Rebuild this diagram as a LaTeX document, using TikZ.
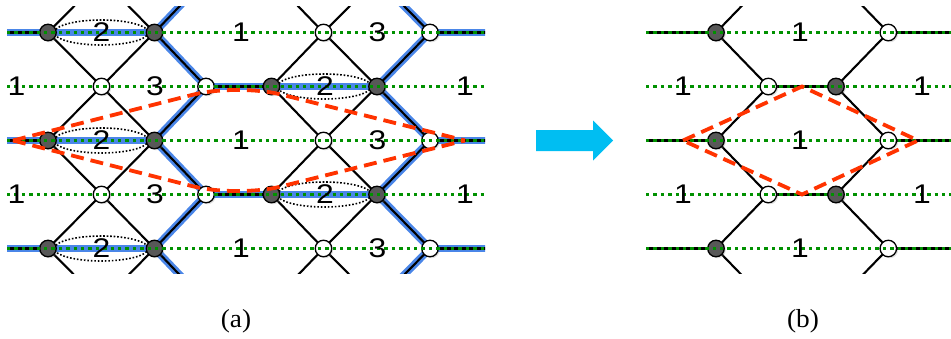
\documentclass[tikz,border=0pt]{standalone}
\usepackage{fontspec}
\setmainfont{Liberation Serif}
\newfontfamily\digitfont[FakeStretch=1.18]{Liberation Sans}
\newfontfamily\captionfont[FakeStretch=1.05]{Liberation Serif}
\usetikzlibrary{shadows}
\definecolor{hlblue}{RGB}{74,134,232}
\definecolor{dotgreen}{RGB}{0,145,0}
\definecolor{cutred}{RGB}{255,51,0}
\definecolor{arrowcyan}{RGB}{0,190,242}
\definecolor{darknode}{RGB}{88,88,88}
\pgfdeclarelayer{bg}
\pgfdeclarelayer{fg}
\pgfsetlayers{bg,main,fg}
\begin{document}
\begin{tikzpicture}[x=1pt,y=-1pt,
  bond/.style={line width=2.1pt, black},
  hl/.style={line width=7.5pt, hlblue},
  gridline/.style={line width=3.4pt, dotgreen, dash pattern=on 3.4pt off 4pt},
  pairloop/.style={black, line width=1.6pt, dash pattern=on 1.6pt off 1.9pt},
  basenode/.style={circle, draw, line width=1.3pt, minimum size=16.5pt, inner sep=0pt,
    drop shadow={shadow xshift=1.5pt, shadow yshift=-1.5pt, opacity=0.25}},
  dnode/.style={basenode, fill=darknode},
  wnode/.style={basenode, fill=white},
  lbl/.style={font=\digitfont\fontsize{27}{27}\selectfont, inner sep=0pt},
  captext/.style={font=\captionfont\fontsize{26}{26}\selectfont, inner sep=0pt},
  cut/.style={cutred, line width=3.8pt, dash pattern=on 13pt off 7pt},
]
\useasboundingbox (0,0) rectangle (951,338);

% ---------------- panel (a): lattice points ----------------
\foreach \k in {1,3,5} {
  \node[dnode] (A1k\k) at (48,{-21.5+54*\k}) {};
  \node[dnode] (A3k\k) at (154.5,{-21.5+54*\k}) {};
  \node[wnode] (A6k\k) at (323.5,{-21.5+54*\k}) {};
  \node[wnode] (A8k\k) at (430,{-21.5+54*\k}) {};
  \coordinate (AL\k) at (0,{-21.5+54*\k});
  \coordinate (AR\k) at (495,{-21.5+54*\k});
}
\foreach \k in {2,4} {
  \node[wnode] (A2k\k) at (101.5,{-21.5+54*\k}) {};
  \node[wnode] (A4k\k) at (206,{-21.5+54*\k}) {};
  \node[dnode] (A5k\k) at (271.5,{-21.5+54*\k}) {};
  \node[dnode] (A7k\k) at (377,{-21.5+54*\k}) {};
}
\foreach \k in {0,6} {
  \coordinate (A2k\k) at (101.5,{-21.5+54*\k});
  \coordinate (A4k\k) at (206,{-21.5+54*\k});
  \coordinate (A5k\k) at (271.5,{-21.5+54*\k});
  \coordinate (A7k\k) at (377,{-21.5+54*\k});
}

% ---------------- panel (b): lattice points ----------------
\foreach \k in {1,3,5} {
  \node[dnode] (B1k\k) at (716,{-21.5+54*\k}) {};
  \node[wnode] (B4k\k) at (888.3,{-21.5+54*\k}) {};
  \coordinate (BL\k) at (640,{-21.5+54*\k});
  \coordinate (BR\k) at (960,{-21.5+54*\k});
}
\foreach \k in {2,4} {
  \node[wnode] (B2k\k) at (768.3,{-21.5+54*\k}) {};
  \node[dnode] (B3k\k) at (836,{-21.5+54*\k}) {};
}
\foreach \k in {0,6} {
  \coordinate (B2k\k) at (768.3,{-21.5+54*\k});
  \coordinate (B3k\k) at (836,{-21.5+54*\k});
}

% ---------------- bonds (background layer) ----------------
\begin{pgfonlayer}{bg}
\begin{scope}
  \clip (7,6) rectangle (485,273);
  % blue highlight
  \foreach \k in {1,3,5} {
    \draw[hl] (AL\k) -- (A1k\k.center) -- (A3k\k.center);
    \draw[hl] (A8k\k.center) -- (AR\k);
  }
  \foreach \k in {0,2,4,6} {
    \draw[hl] (A4k\k.center) -- (A5k\k.center) -- (A7k\k.center);
  }
  \foreach \e/\o in {1/0,1/2,3/2,3/4,5/4,5/6} {
    \draw[hl] (A3k\e.center) -- (A4k\o.center);
    \draw[hl] (A7k\o.center) -- (A8k\e.center);
  }
  % black bonds
  \foreach \k in {1,3,5} {
    \draw[bond] (AL\k) -- (A1k\k.center);
    \draw[bond] (A8k\k.center) -- (AR\k);
  }
  \foreach \k in {0,2,4,6} {
    \draw[bond] (A4k\k.center) -- (A5k\k.center);
  }
  \foreach \e/\o in {1/0,1/2,3/2,3/4,5/4,5/6} {
    \draw[bond] (A1k\e.center) -- (A2k\o.center);
    \draw[bond] (A3k\e.center) -- (A2k\o.center);
    \draw[bond] (A3k\e.center) -- (A4k\o.center);
    \draw[bond] (A5k\o.center) -- (A6k\e.center);
    \draw[bond] (A7k\o.center) -- (A6k\e.center);
    \draw[bond] (A7k\o.center) -- (A8k\e.center);
  }
  % dotted pair loops
  \foreach \k in {1,3,5} {
    \draw[pairloop] (101.25,{-21.5+54*\k}) ellipse [x radius=47, y radius=12.5];
  }
  \foreach \k in {2,4} {
    \draw[pairloop] (324.25,{-21.5+54*\k}) ellipse [x radius=47, y radius=12.5];
  }
\end{scope}
\begin{scope}
  \clip (646,6) rectangle (951,273);
  \foreach \k in {1,3,5} {
    \draw[bond] (BL\k) -- (B1k\k.center);
    \draw[bond] (B4k\k.center) -- (BR\k);
  }
  \foreach \k in {2,4} {
    \draw[bond] (B2k\k.center) -- (B3k\k.center);
  }
  \foreach \e/\o in {1/0,1/2,3/2,3/4,5/4,5/6} {
    \draw[bond] (B1k\e.center) -- (B2k\o.center);
    \draw[bond] (B3k\o.center) -- (B4k\e.center);
  }
\end{scope}
\end{pgfonlayer}

% ---------------- foreground ----------------
\begin{pgfonlayer}{fg}
  \foreach \k in {1,...,5} {
    \coordinate (GAl\k) at (7,{-21.5+54*\k});
    \coordinate (GAr\k) at (485,{-21.5+54*\k});
    \coordinate (GBl\k) at (646,{-21.5+54*\k});
    \coordinate (GBr\k) at (951,{-21.5+54*\k});
    \draw[gridline] (GAl\k) -- (GAr\k);
    \draw[gridline] (GBl\k) -- (GBr\k);
  }
  % labels
  \foreach \k in {1,3,5} {
    \node[lbl] (LAa\k) at (101.5,{-21.5+54*\k}) {2};
    \node[lbl] (LAb\k) at (241,{-21.5+54*\k}) {1};
    \node[lbl] (LAc\k) at (377.5,{-21.5+54*\k}) {3};
    \node[lbl] (LBa\k) at (800,{-21.5+54*\k}) {1};
  }
  \foreach \k in {2,4} {
    \node[lbl] (LAd\k) at (16.5,{-21.5+54*\k}) {1};
    \node[lbl] (LAe\k) at (155,{-21.5+54*\k}) {3};
    \node[lbl] (LAf\k) at (325,{-21.5+54*\k}) {2};
    \node[lbl] (LAg\k) at (465,{-21.5+54*\k}) {1};
    \node[lbl] (LBb\k) at (683,{-21.5+54*\k}) {1};
    \node[lbl] (LBc\k) at (922,{-21.5+54*\k}) {1};
  }
  % red cut lines
  \coordinate (RAl) at (13,140.5);
  \coordinate (RAt) at (237,83.5);
  \coordinate (RAr) at (465,140.5);
  \coordinate (RAb) at (237,197.5);
  \draw[cut, rounded corners=45pt] (RAl) -- (RAt) -- (RAr);
  \draw[cut, rounded corners=45pt] (RAl) -- (RAb) -- (RAr);
  \coordinate (RBl) at (683,140.5);
  \coordinate (RBt) at (802,86.5);
  \coordinate (RBr) at (918,140.5);
  \coordinate (RBb) at (802,194.5);
  \draw[cut, line join=miter] (RBl) -- (RBt) -- (RBr) -- (RBb) -- cycle;
\end{pgfonlayer}

% arrow
\fill[arrowcyan] (536,130) -- (593,130) -- (593,120.5) -- (613,140.5) -- (593,160.5) -- (593,151) -- (536,151) -- cycle;

% captions
\node[captext] (capA) at (236,321) {(a)};
\node[captext] (capB) at (803,321) {(b)};
\end{tikzpicture}
\end{document}
